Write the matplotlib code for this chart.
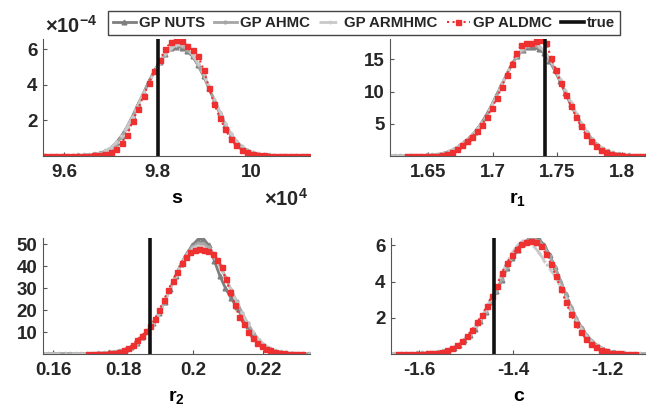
import numpy as np
import matplotlib.pyplot as plt

plt.rcParams.update({
    'font.family': 'Liberation Sans',
    'font.weight': 'bold',
    'font.size': 13,
    'mathtext.fontset': 'custom',
    'mathtext.rm': 'Liberation Sans',
    'mathtext.bf': 'Liberation Sans:bold',
    'axes.unicode_minus': False,
    'text.color': '#262626',
})

methods = ['GP NUTS', 'GP AHMC', 'GP ARMHMC', 'GP ALDMC']
true_values = [9.80, 1.74, 0.1877, -1.44]
true_heights = [6.53, 18.0, 52.6, 6.33]

# posterior densities, each evaluated on an even grid between its (start, end)
# s is in units of 1e4, its density in units of 1e-4
s_ranges = [(9.56, 10.12), (9.56, 10.12), (9.56, 10.12), (9.56, 10.12)]
s_nuts = [0, 0, 0.01, 0.01, 0.02, 0.02, 0.03, 0.04, 0.06, 0.1, 0.16, 0.27, 0.45, 0.75, 1.15, 1.65,
          2.25, 2.9, 3.55, 4.2, 4.8, 5.3, 5.75, 6.05, 6.15, 6.1, 5.9, 5.6, 5.1, 4.5, 3.8, 3.1,
          2.4, 1.75, 1.2, 0.8, 0.5, 0.3, 0.18, 0.1, 0.06, 0.04, 0.02, 0.01, 0, 0, 0, 0, 0]
s_ahmc = [0, 0, 0.01, 0.01, 0.02, 0.02, 0.03, 0.04, 0.06, 0.09, 0.15, 0.25, 0.42, 0.7, 1.08, 1.58,
          2.18, 2.85, 3.5, 4.15, 4.75, 5.28, 5.75, 6.08, 6.22, 6.18, 5.98, 5.65, 5.15, 4.55, 3.85, 3.12,
          2.42, 1.78, 1.22, 0.82, 0.52, 0.32, 0.19, 0.11, 0.07, 0.04, 0.02, 0.01, 0.01, 0, 0, 0, 0]
s_armhmc = [0, 0.01, 0.01, 0.02, 0.02, 0.03, 0.04, 0.05, 0.07, 0.11, 0.17, 0.28, 0.46, 0.76, 1.15, 1.62,
            2.2, 2.85, 3.5, 4.12, 4.72, 5.25, 5.72, 6.05, 6.25, 6.25, 6.05, 5.7, 5.2, 4.6, 3.92, 3.2,
            2.5, 1.85, 1.28, 0.86, 0.55, 0.34, 0.2, 0.12, 0.07, 0.04, 0.03, 0.02, 0.01, 0.01, 0, 0, 0]
s_aldmc = [0, 0, 0, 0, 0, 0, 0.01, 0.01, 0.02, 0.03, 0.05, 0.09, 0.2, 0.4, 0.75, 1.2,
           1.95, 2.65, 3.4, 4.1, 4.8, 5.4, 6.0, 6.4, 6.55, 6.48, 6.2, 5.95, 5.65, 4.85, 3.85, 2.9,
           2.15, 1.5, 0.95, 0.6, 0.35, 0.2, 0.1, 0.05, 0.03, 0.02, 0.01, 0, 0, 0, 0, 0, 0]

r1_ranges = [(1.620, 1.818), (1.620, 1.818), (1.620, 1.818), (1.634, 1.818)]
r1_nuts = [0, 0, 0, 0.01, 0.02, 0.03, 0.05, 0.08, 0.13, 0.22, 0.38, 0.62, 1.0, 1.5, 2.1, 2.8,
           3.7, 4.8, 6.1, 7.6, 9.3, 11.0, 12.7, 14.3, 15.6, 16.5, 17.0, 16.9, 16.6, 16.0, 14.8, 13.3,
           11.6, 9.8, 8.0, 6.4, 4.9, 3.6, 2.5, 1.7, 1.1, 0.7, 0.42, 0.25, 0.14, 0.08, 0.04, 0.02, 0.01]
r1_ahmc = [0, 0, 0.01, 0.01, 0.02, 0.03, 0.05, 0.08, 0.13, 0.22, 0.37, 0.6, 0.95, 1.45, 2.05, 2.75,
           3.6, 4.65, 5.9, 7.4, 9.1, 10.85, 12.6, 14.2, 15.55, 16.5, 17.1, 17.2, 16.9, 16.2, 15.0, 13.5,
           11.8, 10.0, 8.2, 6.5, 5.0, 3.7, 2.6, 1.75, 1.15, 0.72, 0.43, 0.26, 0.15, 0.08, 0.04, 0.02, 0.01]
r1_armhmc = [0, 0.01, 0.01, 0.02, 0.03, 0.04, 0.06, 0.09, 0.15, 0.25, 0.4, 0.65, 1.0, 1.5, 2.1, 2.8,
             3.65, 4.7, 5.95, 7.45, 9.15, 10.9, 12.7, 14.3, 15.7, 16.7, 17.3, 17.4, 17.1, 16.4, 15.2, 13.7,
             12.0, 10.2, 8.4, 6.7, 5.15, 3.8, 2.7, 1.85, 1.2, 0.75, 0.45, 0.27, 0.16, 0.09, 0.05, 0.03, 0.01]
r1_aldmc = [0, 0, 0, 0, 0.01, 0.02, 0.05, 0.12, 0.3, 0.65, 1.1, 1.7, 2.3, 3.0, 3.85, 4.8,
            6.0, 7.4, 9.0, 10.7, 12.6, 14.3, 16.0, 17.2, 17.6, 17.6, 17.8, 18.0, 17.6, 15.2, 13.3, 11.3,
            9.4, 7.8, 6.1, 4.6, 3.3, 2.3, 1.5, 0.9, 0.55, 0.3, 0.18, 0.1, 0.05, 0.03, 0.01, 0, 0]

r2_ranges = [(0.157, 0.233), (0.157, 0.233), (0.157, 0.233), (0.170, 0.231)]
r2_nuts = [0.05, 0.05, 0.05, 0.06, 0.07, 0.08, 0.1, 0.12, 0.15, 0.2, 0.3, 0.45, 0.7, 1.0, 1.5, 2.2,
           3.4, 5.2, 7.6, 10.4, 14.0, 18.5, 23.8, 29.5, 35.5, 41.0, 45.8, 49.5, 52.2, 52.6, 49.5, 42.5,
           35.5, 30.0, 25.5, 21.5, 17.0, 12.8, 8.8, 5.7, 3.5, 2.1, 1.2, 0.7, 0.4, 0.22, 0.12, 0.06, 0.03]
r2_ahmc = [0.03, 0.03, 0.04, 0.05, 0.06, 0.07, 0.09, 0.11, 0.14, 0.19, 0.28, 0.42, 0.65, 0.95, 1.45, 2.15,
           3.3, 5.0, 7.4, 10.3, 14.0, 18.6, 24.0, 29.8, 35.8, 41.2, 45.8, 48.9, 50.4, 50.3, 48.6, 45.3,
           40.6, 35.0, 29.3, 24.0, 18.8, 14.0, 9.8, 6.5, 4.1, 2.5, 1.45, 0.82, 0.46, 0.25, 0.13, 0.07, 0.03]
r2_armhmc = [0.02, 0.02, 0.03, 0.03, 0.04, 0.05, 0.07, 0.09, 0.12, 0.17, 0.26, 0.4, 0.62, 0.92, 1.4, 2.1,
             3.2, 4.9, 7.3, 10.2, 13.9, 18.5, 23.9, 29.6, 35.5, 40.8, 45.2, 48.1, 49.3, 49.0, 47.3, 44.2,
             39.8, 34.5, 29.0, 23.8, 18.7, 14.0, 9.9, 6.6, 4.2, 2.6, 1.5, 0.85, 0.48, 0.26, 0.14, 0.07, 0.04]
r2_aldmc = [0, 0.02, 0.05, 0.1, 0.2, 0.35, 0.6, 1.0, 1.6, 2.6, 4.0, 6.5, 8.3, 10.3, 12.6, 16.0,
            20.0, 24.5, 29.0, 33.5, 37.5, 41.5, 44.3, 46.3, 47.4, 47.8, 47.6, 47.0, 45.5, 43.0, 39.5, 34.0,
            28.5, 22.5, 17.0, 13.5, 10.0, 7.3, 5.2, 3.6, 2.4, 1.6, 1.0, 0.6, 0.35, 0.2, 0.1, 0.05, 0.02]

c_ranges = [(-1.662, -1.118), (-1.662, -1.118), (-1.662, -1.118), (-1.645, -1.140)]
c_nuts = [0, 0, 0.01, 0.01, 0.02, 0.03, 0.04, 0.05, 0.07, 0.1, 0.15, 0.22, 0.33, 0.5, 0.75, 1.05,
          1.4, 1.8, 2.3, 2.85, 3.45, 4.1, 4.75, 5.3, 5.75, 6.1, 6.33, 6.4, 6.32, 6.0, 5.45, 4.8,
          4.05, 3.3, 2.6, 1.95, 1.42, 1.0, 0.68, 0.45, 0.29, 0.18, 0.11, 0.07, 0.04, 0.02, 0.01, 0.01, 0]
c_ahmc = [0, 0, 0.01, 0.01, 0.02, 0.03, 0.04, 0.05, 0.07, 0.1, 0.15, 0.23, 0.34, 0.52, 0.77, 1.07,
          1.43, 1.84, 2.34, 2.9, 3.5, 4.15, 4.8, 5.35, 5.8, 6.12, 6.3, 6.33, 6.22, 5.9, 5.4, 4.78,
          4.05, 3.32, 2.62, 1.98, 1.45, 1.02, 0.7, 0.46, 0.3, 0.19, 0.12, 0.07, 0.04, 0.02, 0.01, 0.01, 0]
c_armhmc = [0, 0.01, 0.01, 0.02, 0.02, 0.03, 0.04, 0.06, 0.08, 0.11, 0.16, 0.24, 0.36, 0.54, 0.8, 1.1,
            1.48, 1.92, 2.45, 3.05, 3.7, 4.4, 5.05, 5.6, 6.0, 6.25, 6.2, 5.95, 5.6, 5.15, 4.7, 4.3,
            3.75, 3.1, 2.45, 1.85, 1.35, 0.95, 0.65, 0.43, 0.28, 0.17, 0.1, 0.06, 0.04, 0.02, 0.01, 0.01, 0]
c_aldmc = [0, 0, 0, 0.01, 0.01, 0.02, 0.03, 0.05, 0.07, 0.12, 0.2, 0.32, 0.5, 0.72, 1.0, 1.35,
           1.75, 2.15, 2.65, 3.2, 3.75, 4.45, 5.0, 5.45, 5.8, 6.05, 6.2, 6.25, 6.2, 5.95, 5.5, 4.95,
           4.3, 3.6, 2.85, 2.2, 1.65, 1.2, 0.85, 0.57, 0.37, 0.23, 0.14, 0.08, 0.05, 0.03, 0.02, 0.01, 0]

panels = [
    dict(ranges=s_ranges, dens=[s_nuts, s_ahmc, s_armhmc, s_aldmc], xlabel='s',
         xlim=(9.555, 10.126), ylim=(0, 6.58), xticks=[9.6, 9.8, 10.0], xtl=['9.6', '9.8', '10'],
         yticks=[2, 4, 6], ytl=['2', '4', '6']),
    dict(ranges=r1_ranges, dens=[r1_nuts, r1_ahmc, r1_armhmc, r1_aldmc], xlabel=r'$\mathbf{r_1}$',
         xlim=(1.6205, 1.8185), ylim=(0, 18.17), xticks=[1.65, 1.7, 1.75, 1.8],
         xtl=['1.65', '1.7', '1.75', '1.8'], yticks=[5, 10, 15], ytl=['5', '10', '15']),
    dict(ranges=r2_ranges, dens=[r2_nuts, r2_ahmc, r2_armhmc, r2_aldmc], xlabel=r'$\mathbf{r_2}$',
         xlim=(0.1571, 0.2334), ylim=(0, 52.9), xticks=[0.16, 0.18, 0.2, 0.22],
         xtl=['0.16', '0.18', '0.2', '0.22'], yticks=[10, 20, 30, 40, 50],
         ytl=['10', '20', '30', '40', '50']),
    dict(ranges=c_ranges, dens=[c_nuts, c_ahmc, c_armhmc, c_aldmc], xlabel='c',
         xlim=(-1.6596, -1.117), ylim=(0, 6.4), xticks=[-1.6, -1.4, -1.2],
         xtl=['-1.6', '-1.4', '-1.2'], yticks=[2, 4, 6], ytl=['2', '4', '6']),
]

styles = [
    dict(color='#7f7f7f', ls='-', lw=2.0, marker='^', ms=3.4),
    dict(color='#a6a6a6', ls='-', lw=2.0, marker='.', ms=4),
    dict(color='#c9c9c9', ls='-.', lw=2.0, marker='+', ms=3.5),
    dict(color='#ee3030', ls=':', lw=1.5, marker='s', ms=3.6),
]

W, H = 646, 411
boxes = [(43, 39, 310, 156), (390, 39, 646, 156), (43, 238, 310, 354), (391, 238, 646, 354)]

fig = plt.figure(figsize=(W / 100, H / 100), dpi=100)

handles = []
for k, (p, (x0, y0, x1, y1)) in enumerate(zip(panels, boxes)):
    ax = fig.add_axes([x0 / W, 1 - y1 / H, (x1 - x0) / W, (y1 - y0) / H])
    for m, (rng, d, st) in enumerate(zip(p['ranges'], p['dens'], styles)):
        x = np.linspace(rng[0], rng[1], len(d))
        ln, = ax.plot(x, d, label=methods[m], **st)
        if k == 0:
            handles.append(ln)
    tl, = ax.plot([true_values[k]] * 2, [0, true_heights[k]], color='#111111', lw=2.6, label='true')
    if k == 0:
        handles.append(tl)

    ax.set_xlim(p['xlim'])
    ax.set_ylim(p['ylim'])
    ax.set_xticks(p['xticks'])
    ax.set_xticklabels(p['xtl'])
    ax.set_yticks(p['yticks'])
    ax.set_yticklabels(p['ytl'])
    ax.set_xlabel(p['xlabel'], fontsize=14, fontweight='bold', labelpad=6)
    for side in ['top', 'right']:
        ax.spines[side].set_visible(False)
    for side in ['left', 'bottom']:
        ax.spines[side].set_color('#555555')
        ax.spines[side].set_linewidth(0.8)
    ax.tick_params(direction='in', length=3, width=0.8, color='#555555', labelcolor='#262626',
                   labelsize=13.5)
    ax.tick_params(axis='x', pad=6)
    ax.tick_params(axis='y', pad=4)
    for lab in ax.get_xticklabels() + ax.get_yticklabels():
        lab.set_fontweight('bold')

# exponent markers for the s panel
fig.text(45 / W, 1 - 33 / H, r'$\times\mathbf{10^{-4}}$', ha='left', va='baseline', fontsize=14.5)
fig.text(308 / W, 1 - 206 / H, r'$\times\mathbf{10^{4}}$', ha='right', va='baseline', fontsize=14.5)

leg = fig.legend(handles, methods + ['true'], ncol=5, loc='upper left',
                 bbox_to_anchor=(108 / W, 1 - 11 / H), frameon=True, fancybox=False,
                 edgecolor='#444444', framealpha=1, borderaxespad=0, borderpad=0.35,
                 handlelength=1.5, handletextpad=0.2, columnspacing=0.62,
                 prop={'weight': 'bold', 'size': 10.8})
leg.get_frame().set_linewidth(1.0)

fig.savefig('out.png', dpi=100)
